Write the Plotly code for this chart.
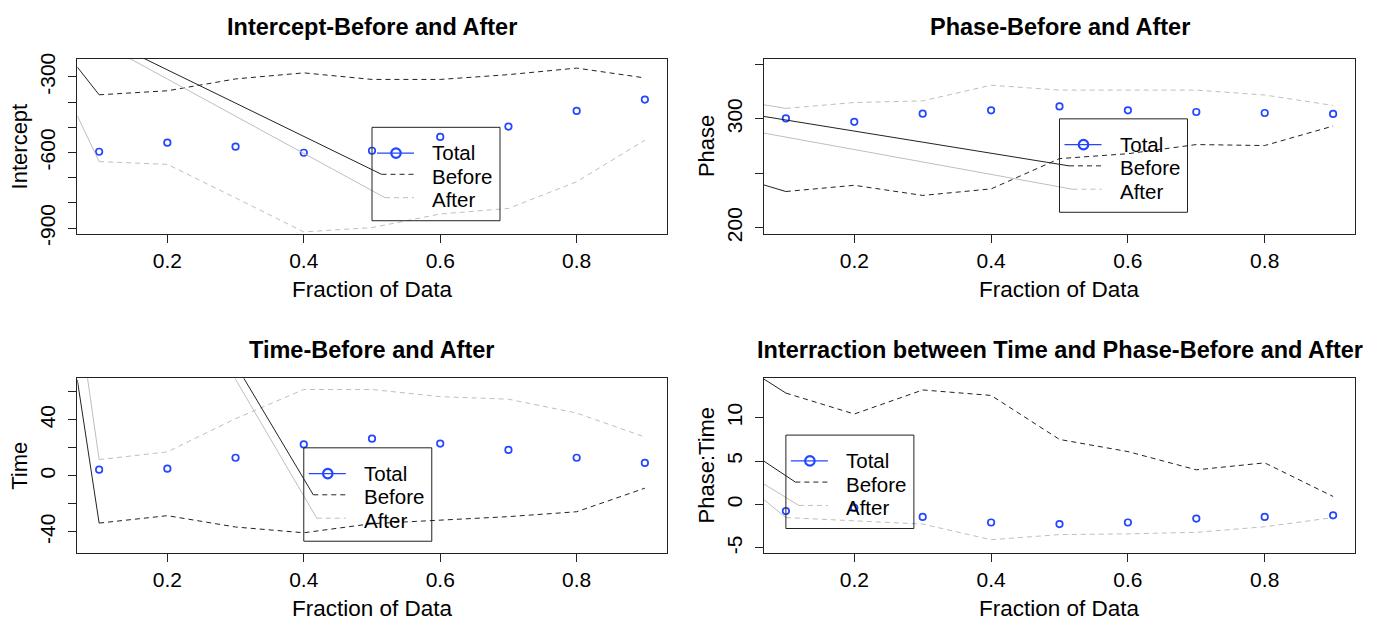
import plotly.graph_objects as go

# ---------------- data ----------------
fraction = [0.1, 0.2, 0.3, 0.4, 0.5, 0.6, 0.7, 0.8, 0.9]
x_ticks = [0.2, 0.4, 0.6, 0.8]
x_tick_text = ["0.2", "0.4", "0.6", "0.8"]

intercept_total = [-597, -561, -577, -601, -593, -538, -497, -435, -390]
intercept_before = [-371, -355, -308, -284, -310, -310, -291, -265, -304]
intercept_after = [-636, -647, -780, -915, -898, -844, -822, -716, -551]

phase_total = [300.4, 297.3, 304.8, 307.8, 311.4, 307.8, 306.3, 305.4, 304.5]
phase_before = [233.3, 239.0, 229.7, 235.7, 263.5, 268.0, 276.4, 275.5, 293.4]
phase_after = [309.6, 315.0, 316.5, 330.9, 326.4, 326.4, 326.4, 321.9, 312.3]

time_total = [4.4, 5.1, 12.9, 22.4, 26.5, 23.0, 18.5, 12.9, 9.2]
time_before = [-33.7, -28.4, -36.5, -40.6, -34.1, -31.8, -29.1, -25.6, -8.8]
time_after = [11.6, 17.1, 40.8, 61.6, 61.6, 56.5, 54.7, 44.8, 27.7]

inter_total = [-0.75, -0.38, -1.43, -2.07, -2.25, -2.07, -1.62, -1.43, -1.24]
inter_before = [12.84, 10.43, 13.2, 12.57, 7.5, 6.1, 4.0, 4.8, 0.93]
inter_after = [-1.5, -1.88, -2.25, -4.05, -3.46, -3.38, -3.2, -2.56, -1.5]

# y tick positions and labels (unlabelled ticks where labels would collide)
intercept_ticks = [-900, -800, -700, -600, -500, -400, -300]
intercept_tick_text = ["-900", "", "", "-600", "", "", "-300"]
phase_ticks = [200, 250, 300, 350]
phase_tick_text = ["200", "", "300", ""]
time_ticks = [-40, -20, 0, 20, 40, 60]
time_tick_text = ["-40", "", "0", "", "40", ""]
inter_ticks = [-5, 0, 5, 10]
inter_tick_text = ["-5", "0", "5", "10"]

# start points of the solid connector strokes (x, y) in data units
intercept_leads = {"before": (0.068, -261), "after": (0.068, -454),
                   "leg_before": (0.166, -227), "leg_after": (0.145, -227)}
phase_leads = {"before": (0.068, 239.3), "after": (0.068, 312.9),
               "leg_before": (0.068, 302.2), "leg_after": (0.068, 286.9)}
time_leads = {"before": (0.068, 68.5), "after": (0.083, 69.7),
              "leg_before": (0.312, 69.7), "leg_after": (0.299, 69.7)}
inter_leads = {"before": (0.068, 14.45), "after": (0.068, 0.56),
               "leg_before": (0.068, 4.99), "leg_after": (0.068, 2.36)}

# ---------------- layout constants ----------------
W, H = 1377, 630
FONT = "Liberation Sans, Arial, Helvetica, sans-serif"
BLUE = "#2346ff"
DARK = "#222222"
GRAY = "#bebebe"
DASH = "5px,4px"
X_RANGE = [0.068, 0.932]

# pixel boxes of the four plot regions: (left, right, top, bottom)
boxes = {
    1: (77.3, 666.7, 55.0, 235.0),
    2: (764.0, 1355.0, 55.0, 235.0),
    3: (77.3, 666.7, 383.5, 563.0),
    4: (764.0, 1355.0, 383.5, 563.0),
}

panels = [
    dict(title="Intercept-Before and After", ylabel="Intercept",
         total=intercept_total, before=intercept_before, after=intercept_after,
         yrange=[-922, -227], ticks=intercept_ticks, ticktext=intercept_tick_text,
         legend_at=(0.5, -500), leads=intercept_leads),
    dict(title="Phase-Before and After", ylabel="Phase",
         total=phase_total, before=phase_before, after=phase_after,
         yrange=[194.6, 355.4], ticks=phase_ticks, ticktext=phase_tick_text,
         legend_at=(0.5, 300), leads=phase_leads),
    dict(title="Time-Before and After", ylabel="Time",
         total=time_total, before=time_before, after=time_after,
         yrange=[-54.9, 69.7], ticks=time_ticks, ticktext=time_tick_text,
         legend_at=(0.4, 20), leads=time_leads),
    dict(title="Interraction between Time and Phase-Before and After", ylabel="Phase:Time",
         total=inter_total, before=inter_before, after=inter_after,
         yrange=[-5.56, 14.56], ticks=inter_ticks, ticktext=inter_tick_text,
         legend_at=(0.1, 8), leads=inter_leads),
]

# legend geometry in pixels, relative to the legend's top-left corner
LEG_W, LEG_H = 128, 96
ROW_LINE = {"Total": 26.5, "Before": 48.3, "After": 72.3}
ROW_TEXT = {"Total": 26.0, "Before": 50.5, "After": 74.5}
SEG_START = {"Total": 5.0, "Before": 9.5, "After": 13.0}
SEG_END = 42.0
SYM_X = 24.0
TEXT_X = 58.0

fig = go.Figure()
shapes = []
annotations = []

for i, p in enumerate(panels, start=1):
    left, right, top, bottom = boxes[i]
    xa = "x" if i == 1 else f"x{i}"
    ya = "y" if i == 1 else f"y{i}"
    y0, y1 = p["yrange"]
    sx = (X_RANGE[1] - X_RANGE[0]) / (right - left)
    sy = (y1 - y0) / (bottom - top)

    def to_data(dx, dy, lx=p["legend_at"][0], ly=p["legend_at"][1], sx=sx, sy=sy):
        return lx + dx * sx, ly - dy * sy

    # series
    fig.add_trace(go.Scatter(x=fraction, y=p["before"], mode="lines", xaxis=xa, yaxis=ya,
                             line=dict(color=DARK, width=1, dash=DASH), showlegend=False,
                             hoverinfo="skip"))
    fig.add_trace(go.Scatter(x=fraction, y=p["after"], mode="lines", xaxis=xa, yaxis=ya,
                             line=dict(color=GRAY, width=1, dash=DASH), showlegend=False,
                             hoverinfo="skip"))
    fig.add_trace(go.Scatter(x=fraction, y=p["total"], mode="markers", xaxis=xa, yaxis=ya,
                             marker=dict(symbol="circle-open", size=6.5, color=BLUE,
                                         line=dict(color=BLUE, width=1.7)),
                             showlegend=False, cliponaxis=False))

    # solid connector strokes
    leads = p["leads"]
    ends = {
        "before": (fraction[0], p["before"][0]),
        "after": (fraction[0], p["after"][0]),
        "leg_before": to_data(SEG_START["Before"], ROW_LINE["Before"]),
        "leg_after": to_data(SEG_START["After"], ROW_LINE["After"]),
    }
    for key, col in [("before", DARK), ("after", GRAY),
                     ("leg_before", DARK), ("leg_after", GRAY)]:
        (sx0, sy0), (ex, ey) = leads[key], ends[key]
        fig.add_trace(go.Scatter(x=[sx0, ex], y=[sy0, ey], mode="lines", xaxis=xa, yaxis=ya,
                                 line=dict(color=col, width=1), showlegend=False,
                                 hoverinfo="skip"))

    # legend box
    bx0, by0 = to_data(0, 0)
    bx1, by1 = to_data(LEG_W, LEG_H)
    shapes.append(dict(type="rect", xref=xa, yref=ya, x0=bx0, x1=bx1, y0=by1, y1=by0,
                       line=dict(color=DARK, width=1), fillcolor="rgba(0,0,0,0)", layer="above"))
    for name, col, dash in [("Total", BLUE, "solid"), ("Before", DARK, DASH), ("After", GRAY, DASH)]:
        sx0, sy0 = to_data(SEG_START[name], ROW_LINE[name])
        ex, _ = to_data(SEG_END, ROW_LINE[name])
        fig.add_trace(go.Scatter(x=[sx0, ex], y=[sy0, sy0], mode="lines", xaxis=xa, yaxis=ya,
                                 line=dict(color=col, width=1.3 if name == "Total" else 1,
                                           dash=dash),
                                 showlegend=False, hoverinfo="skip"))
        if name == "Total":
            mx, my = to_data(SYM_X, ROW_LINE[name])
            fig.add_trace(go.Scatter(x=[mx], y=[my], mode="markers", xaxis=xa, yaxis=ya,
                                     marker=dict(symbol="circle-open", size=9.5, color=BLUE,
                                                 line=dict(color=BLUE, width=2.2)),
                                     showlegend=False, hoverinfo="skip"))
        tx, ty = to_data(TEXT_X, ROW_TEXT[name])
        annotations.append(dict(x=tx, y=ty, xref=xa, yref=ya, text=name, showarrow=False,
                                xanchor="left", yanchor="middle",
                                font=dict(family=FONT, size=20.5, color="black")))

    # axes
    axis_common = dict(showline=True, mirror=True, linecolor=DARK, linewidth=1,
                       ticks="outside", ticklen=8, tickcolor=DARK, tickwidth=1,
                       showgrid=False, zeroline=False,
                       tickfont=dict(family=FONT, size=21, color="black"))
    fig.layout[f"xaxis{'' if i == 1 else i}"] = dict(
        domain=[left / W, right / W], range=X_RANGE, anchor=ya,
        tickvals=x_ticks, ticktext=x_tick_text, **axis_common)
    fig.layout[f"yaxis{'' if i == 1 else i}"] = dict(
        domain=[1 - bottom / H, 1 - top / H], range=p["yrange"], anchor=xa,
        tickvals=p["ticks"], ticktext=p["ticktext"], tickangle=-90,
        ticklabelstandoff=5, **axis_common)

    # titles and axis labels
    cx = (left + right) / 2
    title_gap = 32 if i <= 2 else 29
    annotations.append(dict(x=cx / W, y=1 - (top - title_gap) / H, xref="paper", yref="paper",
                            text=p["title"], showarrow=False, xanchor="center", yanchor="middle",
                            font=dict(family=FONT, size=23.5, color="black", weight=700)))
    annotations.append(dict(x=cx / W, y=1 - (bottom + 57) / H, xref="paper", yref="paper",
                            text="Fraction of Data", showarrow=False, xanchor="center",
                            yanchor="middle", font=dict(family=FONT, size=22.5, color="black")))
    annotations.append(dict(x=(left - 58) / W, y=1 - ((top + bottom) / 2) / H, xref="paper",
                            yref="paper", text=p["ylabel"], showarrow=False, textangle=-90,
                            xanchor="center", yanchor="middle",
                            font=dict(family=FONT, size=22, color="black")))

fig.update_layout(width=W, height=H, margin=dict(l=0, r=0, t=0, b=0),
                  paper_bgcolor="white", plot_bgcolor="white",
                  shapes=shapes, annotations=annotations, showlegend=False)

fig.write_html("out.html")
